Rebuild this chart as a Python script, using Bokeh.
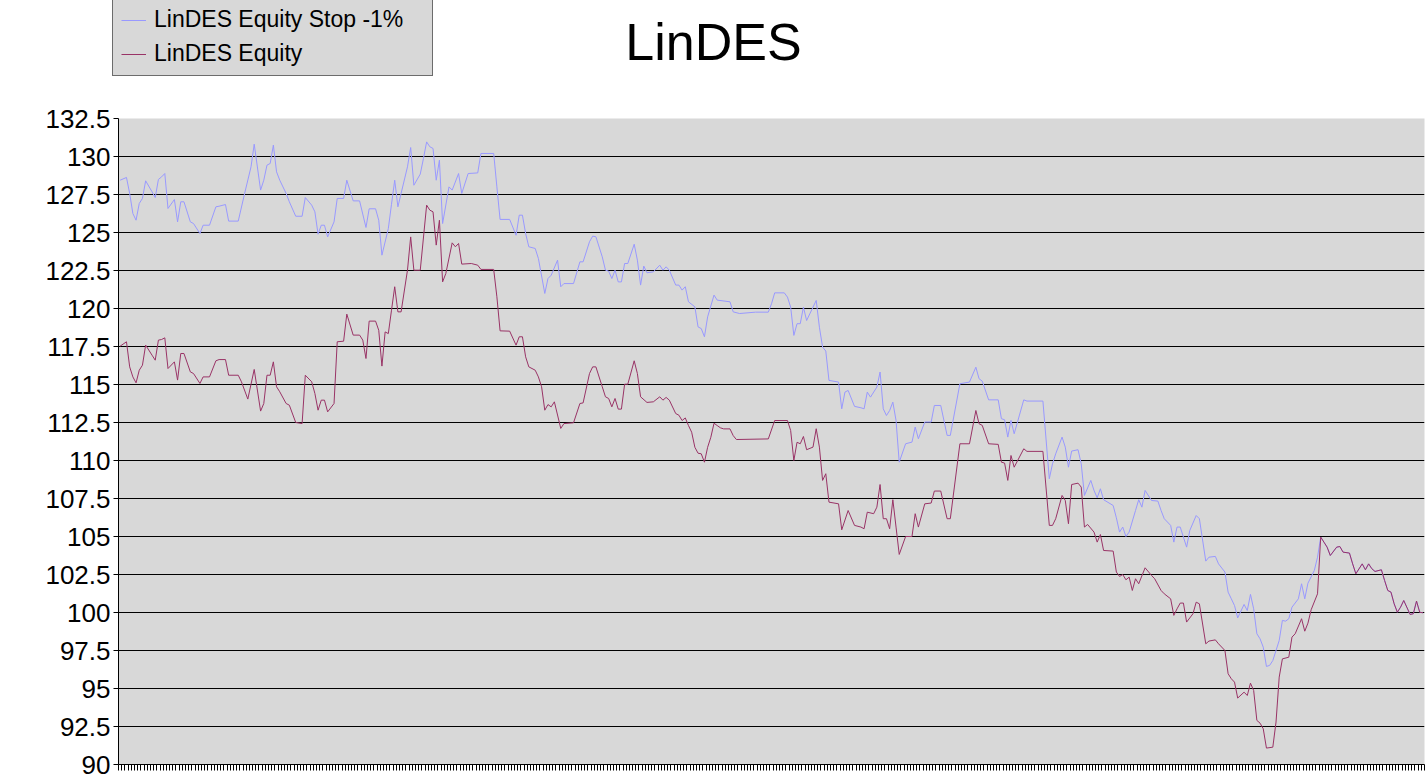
import numpy as np
from bokeh.plotting import figure
from bokeh.layouts import column
from bokeh.models import (Range1d, FixedTicker, NumeralTickFormatter, Legend, LegendItem,
                          CustomJSTickFormatter, Label)
from bokeh.embed import file_html
from bokeh.resources import INLINE

title_text = "LinDES"
series_names = ["LinDES Equity Stop -1%", "LinDES Equity"]
n_periods = 409
y_ticks = [90, 92.5, 95, 97.5, 100, 102.5, 105, 107.5, 110, 112.5, 115, 117.5,
           120, 122.5, 125, 127.5, 130, 132.5]

# LinDES Equity Stop -1%  (period index, value)
stop_x = [0, 2, 3, 4, 5, 6, 7, 8, 10, 11, 12, 13, 14, 15, 17, 18, 19, 20, 22, 23,
          25, 26, 28, 30, 31, 33, 34, 37, 39, 41, 42, 44, 45, 46, 47, 48, 49, 50, 52, 53,
          55, 57, 58, 60, 61, 62, 63, 64, 65, 67, 68, 70, 71, 73, 75, 77, 78, 80, 81, 82,
          84, 85, 86, 87, 88, 90, 91, 92, 94, 95, 96, 97, 98, 99, 100, 101, 103, 104, 106, 107,
          109, 112, 113, 117, 118, 119, 122, 124, 125, 126, 127, 128, 130, 131, 133, 134, 135, 137, 138, 139,
          142, 144, 145, 147, 148, 149, 151, 152, 153, 154, 155, 156, 157, 158, 159, 161, 162, 163, 164, 165,
          167, 169, 170, 171, 172, 174, 175, 176, 177, 178, 180, 181, 182, 183, 184, 186, 187, 191, 192, 194,
          199, 203, 204, 205, 208, 209, 210, 211, 212, 213, 214, 215, 216, 217, 218, 219, 220, 221, 222, 225,
          226, 227, 228, 230, 232, 233, 234, 235, 237, 238, 239, 240, 241, 242, 243, 244, 246, 248, 249, 250,
          252, 254, 255, 257, 259, 260, 263, 266, 268, 269, 270, 272, 275, 276, 277, 278, 279, 280, 283, 284,
          289, 291, 292, 293, 295, 296, 297, 298, 300, 301, 302, 304, 305, 306, 307, 308, 311, 312, 313, 314,
          315, 316, 318, 319, 320, 321, 323, 325, 326, 327, 329, 330, 331, 332, 334, 335, 337, 338, 340, 341,
          343, 344, 346, 347, 348, 349, 350, 352, 353, 354, 355, 356, 357, 358, 359, 360, 361, 363, 364, 365,
          366, 367, 369, 370, 371, 372, 374, 375, 376, 377, 378, 379, 381, 382, 383, 385, 386, 387, 389, 390,
          391, 392, 393, 395, 396, 397, 398, 399, 400, 401, 402, 404, 405, 406, 407, 408]
stop_y = [128.44, 128.62, 127.57, 126.25, 125.81, 126.91, 127.24, 128.40, 127.68, 127.30, 128.49, 128.66, 128.88, 126.58, 127.17, 125.70, 127.02, 127.02, 125.70, 125.59,
          124.93, 125.48, 125.48, 126.69, 126.73, 126.84, 125.75, 125.75, 127.57, 129.32, 130.81, 127.79, 128.44, 129.43, 129.54, 130.75, 128.99, 128.44, 127.57, 127.02,
          126.07, 126.07, 127.30, 126.80, 126.36, 124.89, 125.48, 125.48, 124.71, 125.70, 127.24, 127.24, 128.44, 127.08, 127.08, 125.33, 126.56, 126.56, 125.81, 123.51,
          125.26, 126.86, 128.44, 126.69, 127.57, 129.32, 130.59, 128.11, 128.84, 129.87, 130.96, 130.64, 130.53, 128.44, 129.76, 125.59, 128.00, 127.79, 128.88, 127.57,
          128.88, 128.92, 130.20, 130.20, 128.00, 125.86, 125.86, 124.82, 126.14, 126.14, 124.93, 124.06, 123.95, 123.29, 120.99, 121.97, 122.19, 123.18, 121.43, 121.64,
          121.64, 123.07, 123.07, 124.39, 124.76, 124.72, 123.40, 122.52, 122.46, 121.97, 122.52, 121.75, 121.75, 122.96, 122.96, 124.23, 123.18, 121.54, 122.79, 122.35,
          122.41, 122.85, 122.52, 122.74, 122.52, 121.54, 121.54, 121.21, 121.43, 120.44, 120.11, 118.79, 118.68, 118.14, 119.45, 120.88, 120.55, 120.44, 119.78, 119.67,
          119.76, 119.76, 120.31, 121.03, 121.03, 120.75, 120.09, 118.23, 119.00, 119.00, 120.09, 119.21, 119.65, 120.09, 120.53, 118.77, 117.46, 117.20, 115.27, 115.16,
          113.40, 114.50, 114.61, 113.56, 113.47, 113.40, 114.50, 114.17, 114.83, 115.82, 113.40, 112.96, 113.29, 113.84, 112.64, 109.89, 111.10, 111.21, 112.20, 111.43,
          112.53, 112.53, 113.62, 113.62, 111.65, 111.65, 115.05, 115.16, 116.14, 115.38, 115.22, 113.99, 113.99, 112.75, 112.68, 111.54, 112.64, 111.76, 113.99, 113.91,
          113.91, 108.80, 109.78, 110.44, 111.54, 110.88, 109.56, 110.62, 110.71, 109.78, 107.70, 108.69, 108.03, 107.55, 108.14, 107.42, 107.04, 106.23, 105.29, 105.62,
          105.00, 105.29, 106.71, 107.42, 106.93, 108.03, 107.37, 107.33, 106.71, 106.17, 105.73, 104.63, 105.62, 105.62, 104.30, 105.40, 106.38, 106.17, 103.38, 103.64,
          103.69, 103.20, 102.66, 101.34, 100.90, 100.46, 99.65, 100.53, 100.13, 101.19, 100.24, 98.60, 98.27, 97.72, 96.45, 96.52, 96.84, 98.16, 99.48, 99.43,
          99.59, 100.35, 100.90, 101.89, 100.90, 101.93, 102.77, 103.64, 104.96, 104.63, 104.30, 103.75, 104.30, 104.34, 103.97, 103.91, 103.20, 102.55, 103.20, 102.81,
          103.20, 102.88, 102.70, 102.81, 102.11, 101.45, 101.34, 100.57, 100.02, 100.35, 100.79, 99.87, 99.92, 100.75, 100.02, 99.98]

# LinDES Equity  (period index, value)
eq_x = [0, 2, 3, 4, 5, 6, 7, 8, 10, 11, 12, 13, 14, 15, 17, 18, 19, 20, 22, 23,
        25, 26, 28, 30, 31, 33, 34, 37, 38, 40, 42, 44, 45, 46, 47, 48, 49, 50, 52, 53,
        55, 57, 58, 60, 61, 62, 63, 64, 65, 67, 68, 70, 71, 73, 75, 76, 77, 78, 80, 81,
        82, 83, 84, 85, 86, 87, 88, 90, 91, 92, 94, 96, 97, 98, 99, 100, 101, 102, 104, 105,
        106, 107, 110, 112, 113, 117, 118, 119, 122, 124, 125, 126, 127, 128, 130, 131, 132, 133, 134, 135,
        136, 138, 139, 142, 144, 145, 147, 148, 149, 151, 152, 153, 154, 155, 156, 157, 158, 159, 161, 162,
        163, 165, 167, 169, 170, 171, 172, 174, 175, 176, 177, 178, 179, 180, 181, 182, 183, 184, 185, 186,
        187, 188, 189, 191, 192, 193, 203, 205, 209, 210, 211, 212, 213, 214, 215, 217, 218, 219, 220, 221,
        222, 225, 226, 228, 230, 232, 233, 234, 236, 237, 238, 239, 240, 241, 242, 243, 244, 246, 248, 249,
        250, 252, 254, 255, 257, 259, 260, 263, 266, 268, 269, 270, 272, 275, 276, 277, 278, 279, 280, 283,
        284, 289, 291, 292, 293, 295, 296, 297, 298, 300, 301, 302, 303, 305, 306, 307, 308, 311, 312, 313,
        314, 315, 316, 317, 318, 319, 321, 323, 324, 326, 327, 329, 330, 331, 332, 333, 334, 336, 337, 338,
        340, 341, 343, 344, 346, 347, 348, 349, 350, 352, 353, 354, 355, 356, 357, 358, 359, 361, 362, 363,
        364, 366, 367, 368, 370, 371, 372, 373, 375, 376, 377, 378, 379, 381, 382, 383, 385, 386, 387, 389,
        390, 391, 392, 393, 395, 396, 397, 398, 399, 400, 401, 402, 404, 405, 406, 407, 408]
eq_y = [117.52, 117.81, 116.16, 115.50, 115.11, 115.94, 116.27, 117.59, 116.93, 116.60, 117.92, 117.96, 118.07, 116.05, 116.49, 115.29, 117.04, 117.04, 115.83, 115.72,
        115.07, 115.50, 115.50, 116.56, 116.64, 116.64, 115.61, 115.61, 115.18, 114.04, 115.99, 113.25, 113.75, 115.61, 115.61, 116.49, 114.85, 114.52, 113.75, 113.64,
        112.50, 112.43, 115.61, 115.18, 114.41, 113.31, 113.97, 113.97, 113.20, 113.75, 117.81, 117.85, 119.63, 118.25, 118.25, 117.92, 116.71, 119.17, 119.17, 118.57,
        116.21, 118.46, 118.35, 119.89, 121.43, 119.78, 119.78, 122.52, 124.71, 122.52, 122.52, 126.80, 126.47, 126.36, 124.17, 125.81, 121.75, 122.30, 124.32, 124.06,
        124.28, 122.92, 122.96, 122.85, 122.57, 122.57, 120.77, 118.53, 118.51, 117.59, 118.14, 118.14, 116.82, 116.16, 115.94, 115.50, 114.85, 113.31, 113.68, 113.53,
        113.86, 112.11, 112.43, 112.48, 113.75, 113.79, 115.72, 116.16, 116.16, 114.85, 114.19, 114.08, 113.53, 114.08, 113.38, 113.38, 115.02, 115.02, 116.56, 115.72,
        114.19, 113.82, 113.86, 114.19, 113.97, 114.15, 113.97, 113.09, 112.98, 112.63, 112.80, 112.30, 111.86, 110.87, 110.48, 110.44, 109.89, 110.87, 111.53, 112.45,
        112.30, 112.15, 112.08, 112.08, 111.64, 111.38, 111.42, 112.63, 112.63, 111.97, 110.00, 111.20, 111.10, 111.58, 110.71, 110.88, 112.09, 110.88, 108.69, 109.13,
        107.26, 107.15, 105.44, 106.71, 105.73, 105.62, 105.51, 106.60, 106.50, 106.93, 108.42, 106.17, 106.17, 105.51, 107.42, 105.62, 103.82, 105.00, 105.00, 106.50,
        105.62, 107.15, 107.20, 107.99, 107.99, 106.17, 106.17, 111.10, 111.10, 113.29, 112.42, 112.31, 111.10, 111.06, 109.89, 109.83, 108.69, 110.33, 109.56, 110.77,
        110.60, 110.60, 105.73, 105.73, 106.17, 107.70, 107.37, 105.84, 108.42, 108.51, 108.25, 105.62, 105.79, 105.29, 104.63, 105.13, 104.08, 104.04, 102.66, 102.37,
        102.50, 102.15, 102.33, 101.45, 102.22, 101.89, 102.94, 102.44, 102.22, 101.45, 101.23, 100.90, 99.81, 100.24, 100.62, 100.62, 99.37, 99.92, 100.68, 100.57,
        97.94, 98.12, 98.20, 97.94, 97.50, 95.97, 95.64, 95.42, 94.37, 94.76, 94.54, 95.35, 94.87, 92.90, 92.72, 92.35, 91.08, 91.14, 92.79, 95.75,
        96.95, 97.06, 98.38, 98.60, 99.59, 98.77, 99.30, 100.18, 101.23, 104.96, 104.63, 104.30, 103.75, 104.30, 104.34, 103.97, 103.91, 103.20, 102.55, 103.20,
        102.81, 103.20, 102.88, 102.70, 102.81, 102.11, 101.45, 101.34, 100.57, 100.02, 100.35, 100.79, 99.87, 99.92, 100.75, 100.02, 99.98]

FONT = "Liberation Sans"
BG = "#d8d8d8"
STOP_COLOR = "#9999ff"
EQ_COLOR = "#993366"

# ---- header: title and legend ----
head = figure(width=1426, height=100, output_backend="svg", toolbar_location=None,
              x_axis_type=None, y_axis_type=None, min_border=0)
head.frame_align = False
head.outline_line_color = None
head.background_fill_color = "white"
head.border_fill_color = "white"
head.grid.visible = False
# key-only renderers (no data points drawn) so the legend shows each series' line style
k_stop = head.line(x=np.array([np.nan]), y=np.array([np.nan]), line_color=STOP_COLOR, line_width=1)
k_eq = head.line(x=np.array([np.nan]), y=np.array([np.nan]), line_color=EQ_COLOR, line_width=1)

legend = Legend(items=[LegendItem(label=series_names[0], renderers=[k_stop]),
                       LegendItem(label=series_names[1], renderers=[k_eq])],
                location=(112, 24))
legend.border_line_color = "black"
legend.border_line_width = 1
legend.background_fill_color = BG
legend.background_fill_alpha = 1
legend.label_text_font = FONT
legend.label_text_font_size = "23px"
legend.label_text_color = "black"
legend.padding = 8
legend.spacing = 7
legend.margin = 0
legend.glyph_width = 25
legend.glyph_height = 26
legend.label_height = 26
legend.label_standoff = 8
legend.label_width = 270
head.add_layout(legend)

head.add_layout(Label(x=713, y=59, x_units="screen", y_units="screen", text=title_text,
                      text_align="center", text_baseline="alphabetic",
                      text_font=FONT, text_font_size="52px", text_color="black"))

# ---- main chart ----
p = figure(width=1426, height=680, output_backend="svg", toolbar_location=None,
           x_range=Range1d(-0.5, n_periods - 0.5), y_range=Range1d(90, 132.5),
           min_border_left=118, min_border_right=2, min_border_top=18, min_border_bottom=16)
p.frame_align = False
p.background_fill_color = BG
p.border_fill_color = "white"
p.outline_line_color = None

p.line(stop_x, stop_y, line_color=STOP_COLOR, line_width=1)
p.line(eq_x, eq_y, line_color=EQ_COLOR, line_width=1)

p.yaxis.ticker = FixedTicker(ticks=y_ticks)
p.yaxis.formatter = NumeralTickFormatter(format="0.[0]")
p.yaxis.major_label_text_font = FONT
p.yaxis.major_label_text_font_size = "26px"
p.yaxis.major_label_text_color = "black"
p.yaxis.major_tick_in = 0
p.yaxis.major_tick_out = 5
p.yaxis.minor_tick_out = 0
p.yaxis.minor_tick_in = 0
p.yaxis.major_label_standoff = 3
p.yaxis.axis_line_color = "black"
p.yaxis.major_tick_line_color = "black"

p.xaxis.ticker = FixedTicker(ticks=[i - 0.5 for i in range(n_periods + 1)])
p.xaxis.formatter = CustomJSTickFormatter(code="return ''")
p.xaxis.major_tick_in = 0
p.xaxis.major_tick_out = 6
p.xaxis.minor_tick_out = 0
p.xaxis.minor_tick_in = 0
p.xaxis.major_label_standoff = 0
p.xaxis.axis_line_color = "black"
p.xaxis.major_tick_line_color = "black"

p.xgrid.visible = False
p.ygrid.grid_line_color = "black"
p.ygrid.grid_line_width = 1

layout = column(head, p, spacing=0)
open("out.html", "w").write(file_html(layout, INLINE))
